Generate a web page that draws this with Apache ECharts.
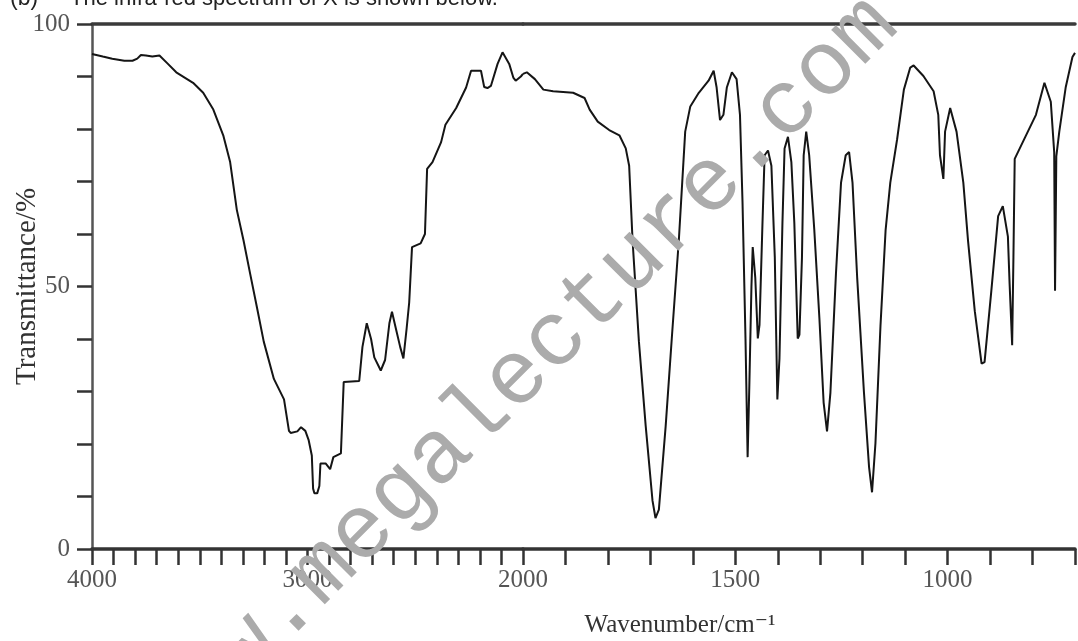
<!DOCTYPE html>
<html>
<head>
<meta charset="utf-8">
<script src="https://cdn.jsdelivr.net/npm/echarts@6/dist/echarts.min.js"></script>
<style>
html,body{margin:0;padding:0;background:#fff;}
#chart{width:1078px;height:641px;}
</style>
</head>
<body>
<div id="chart"></div>
<script>
// Wavenumber (cm^-1) and transmittance (%)
// High-wavenumber section (4000 -> 2000, compressed scale)
var wnHigh = [4000,3950,3906,3850,3812,3790,3773,3750,3720,3687,3650,3609,3570,3531,3484,3437,3391,3359,3328,3297,3266,3234,3203,3156,3109,3086,3078,3047,3030,3010,2995,2980,2974,2968,2955,2945,2940,2916,2895,2880,2845,2832,2760,2745,2725,2705,2690,2660,2640,2620,2608,2590,2570,2555,2540,2528,2515,2475,2455,2445,2420,2380,2360,2310,2264,2241,2195,2180,2165,2149,2118,2095,2087,2064,2045,2034,2010,2000];
var tHigh  = [94.3,93.8,93.4,93.0,93.0,93.4,94.1,94.0,93.8,94.0,92.5,90.8,89.8,88.8,86.9,83.7,78.8,73.7,64.6,58.8,52.4,45.9,39.5,32.4,28.5,22.5,22.1,22.4,23.2,22.5,20.8,17.8,11.5,10.6,10.6,12.0,16.3,16.3,15.2,17.5,18.2,31.8,32.0,38.5,43.0,40.0,36.5,34.0,36.0,43.0,45.2,42.0,38.5,36.3,42.0,47.0,57.5,58.2,60.0,72.4,73.7,77.5,80.8,84.0,87.9,91.1,91.1,88.0,87.8,88.2,92.4,94.6,94.4,92.4,89.8,89.2,90.0,90.5];
// Fingerprint section (2000 -> 700, expanded scale)
var wnLow = [2000,1991,1972,1952,1929,1882,1855,1843,1824,1797,1773,1758,1750,1742,1727,1711,1695,1688,1680,1664,1649,1633,1618,1606,1586,1563,1551,1544,1536,1528,1520,1508,1497,1489,1483,1476,1471,1467,1462,1459,1453,1447,1443,1436,1431,1423,1415,1407,1401,1396,1389,1384,1376,1368,1361,1353,1349,1343,1339,1333,1326,1314,1302,1292,1284,1276,1263,1251,1240,1232,1224,1213,1197,1185,1178,1170,1158,1146,1135,1119,1103,1088,1080,1057,1033,1022,1018,1010,1006,994,979,963,952,936,920,913,897,881,870,858,854,848,845,842,823,792,772,757,749,747,744,737,722,706,700];
var tLow  = [90.5,90.8,89.5,87.5,87.2,86.9,85.9,83.7,81.4,79.8,78.8,76.3,73.0,58.8,39.5,23.4,9.2,5.9,7.5,23.4,40.8,58.8,79.5,84.3,86.9,89.2,91.1,87.9,81.7,82.7,87.9,90.8,89.5,82.7,66.0,40.0,17.5,31.0,50.0,57.5,51.7,40.1,42.7,62.1,75.0,75.9,73.0,55.6,28.5,36.3,62.1,76.3,78.5,73.7,62.1,40.1,40.8,55.6,75.0,79.5,75.0,60.8,44.0,27.9,22.4,29.8,52.4,69.8,75.0,75.6,69.8,51.7,29.8,15.6,10.8,20.1,42.7,60.8,69.8,78.0,87.5,91.7,92.1,90.1,87.2,82.7,75.0,70.5,79.5,84.0,79.5,69.8,58.8,45.3,35.3,35.6,49.2,63.4,65.3,59.5,50.5,38.8,55.6,74.3,77.5,82.7,88.8,85.2,75.6,49.2,74.8,79.5,87.9,93.7,94.5];
var xLabelsHigh = [4000,3000,2000];
var xLabelsLow = [1500,1000];
var yLabels = [0,50,100];

function pairs(xs, ys){ return xs.map(function(x,i){ return [x, ys[i]]; }); }

var labelFont = {fontFamily:'Liberation Serif', fontSize:25, color:'#555'};
var axisColor = '#333';

var chart = echarts.init(document.getElementById('chart'));
chart.setOption({
  animation:false,
  backgroundColor:'#fff',
  grid:[
    {left:92, top:24, width:431, height:525},
    {left:523, top:24, width:558, height:525}
  ],
  xAxis:[
    {type:'value', gridIndex:0, min:2000, max:4000, interval:100, inverse:true, position:'bottom',
     axisLine:{show:true, onZero:false, lineStyle:{color:axisColor, width:3.5}},
     axisTick:{show:true, length:16, lineStyle:{color:axisColor, width:2.5}},
     axisLabel:Object.assign({margin:19, formatter:function(v){ return xLabelsHigh.indexOf(v)>=0 ? String(v) : ''; }}, labelFont),
     splitLine:{show:false}},
    {type:'value', gridIndex:1, min:700, max:2000, interval:100, inverse:true, position:'bottom',
     axisLine:{show:true, onZero:false, lineStyle:{color:axisColor, width:3.5}},
     axisTick:{show:true, length:16, lineStyle:{color:axisColor, width:2.5}},
     axisLabel:Object.assign({margin:19, showMinLabel:true, showMaxLabel:true, formatter:function(v){ return xLabelsLow.indexOf(v)>=0 ? String(v) : ''; }}, labelFont),
     splitLine:{show:false}},
    {type:'value', gridIndex:0, min:2000, max:4000, inverse:true, position:'top',
     axisLine:{show:true, onZero:false, lineStyle:{color:'#3a3a3a', width:3.5}},
     axisTick:{show:false}, axisLabel:{show:false}, splitLine:{show:false}},
    {type:'value', gridIndex:1, min:700, max:2000, inverse:true, position:'top',
     axisLine:{show:true, onZero:false, lineStyle:{color:'#3a3a3a', width:3.5}},
     axisTick:{show:false}, axisLabel:{show:false}, splitLine:{show:false}}
  ],
  yAxis:[
    {type:'value', gridIndex:0, min:0, max:100, interval:10,
     name:'Transmittance/%', nameLocation:'middle', nameGap:50, nameRotate:90, nameMoveOverlap:false,
     nameTextStyle:{fontFamily:'Liberation Serif', fontSize:29, color:'#333'},
     axisLine:{show:true, lineStyle:{color:'#555', width:2.5}},
     axisTick:{show:true, length:15, lineStyle:{color:axisColor, width:2.5}},
     axisLabel:Object.assign({margin:22, formatter:function(v){ return yLabels.indexOf(v)>=0 ? String(v) : ''; }}, labelFont),
     splitLine:{show:false}},
    {type:'value', gridIndex:1, min:0, max:100, show:false, splitLine:{show:false}}
  ],
  series:[
    {type:'line', xAxisIndex:0, yAxisIndex:0, data:pairs(wnHigh,tHigh), showSymbol:false, symbol:'none',
     lineStyle:{color:'#151515', width:2}, z:3},
    {type:'line', xAxisIndex:1, yAxisIndex:1, data:pairs(wnLow,tLow), showSymbol:false, symbol:'none',
     lineStyle:{color:'#151515', width:2}, z:3}
  ],
  graphic:[
    {type:'text', x:10, y:-1, style:{text:'(b)', font:'23px "Liberation Sans"', fill:'#222', verticalAlign:'middle', align:'left'}},
    {type:'text', x:70, y:-1, style:{text:'The infra-red spectrum of X is shown below.', font:'22px "Liberation Sans"', fill:'#222', verticalAlign:'middle', align:'left'}},
    {type:'text', x:680, y:625, style:{text:'Wavenumber/cm\u207B\u00B9', font:'25px "Liberation Serif", "DejaVu Serif"', fill:'#333', verticalAlign:'middle', align:'center'}},
    {type:'text', x:150, y:745, rotation:Math.PI/4, z:100,
     style:{text:'www.megalecture.com', font:'91px "Liberation Mono"', fill:'#ababab', verticalAlign:'middle', align:'left'}}
  ]
});
</script>
</body>
</html>
